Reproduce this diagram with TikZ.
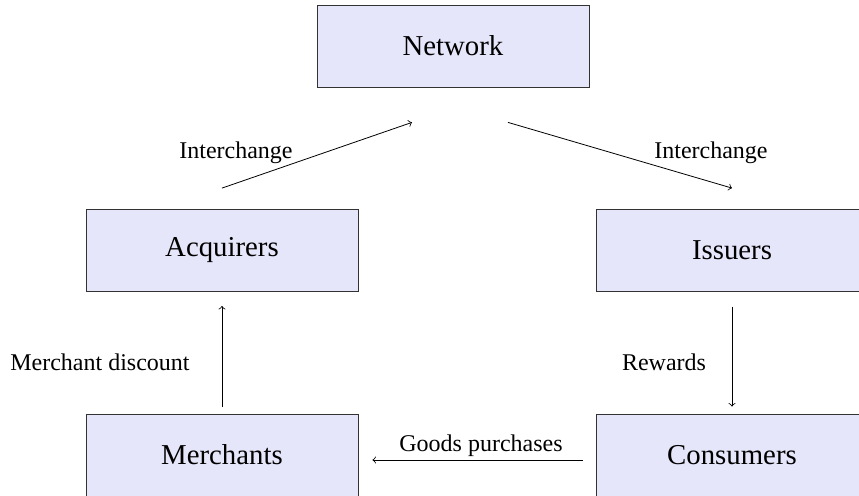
\documentclass[tikz,border=0pt]{standalone}
\usepackage{fontspec}
\setmainfont{Liberation Serif}
\usetikzlibrary{calc}
\definecolor{boxfill}{RGB}{230,230,250}
\definecolor{boxdraw}{RGB}{50,50,50}
\begin{document}
\begin{tikzpicture}[x=0.5pt,y=-0.5pt,
  box/.style={draw=boxdraw, fill=boxfill, minimum width=136pt, minimum height=41pt, inner sep=0pt, font=\fontsize{14.4}{17}\selectfont},
  lbl/.style={font=\fontsize{12}{14}\selectfont, inner sep=0pt},
  arr/.style={->, black}]
\clip (0,0) rectangle (859,496);
\node[box] (net) at (453,46) {Network};
\node[box] (acq) at (222,250.5) {Acquirers};
\node[box] (iss) at (732,250.5) {Issuers};
\node[box] (mer) at (222,455) {Merchants};
\node[box] (con) at (732,455) {Consumers};

\draw[arr] ($(acq.north)+(0,-21)$) -- ($(net.south)+(-41,35)$);
\draw[arr] ($(net.south)+(55,35)$) -- ($(iss.north)+(0,-21)$);
\draw[arr] ($(mer.north)+(0,-7)$) -- ($(acq.south)+(0,14)$);
\draw[arr] ($(iss.south)+(0,15)$) -- ($(con.north)+(0,-7)$);
\draw[arr] ($(con.west)+(-13,5)$) -- ($(mer.east)+(14,5)$);

\node[lbl] (l1) at (236,153) {Interchange};
\node[lbl] (l2) at (711,153) {Interchange};
\node[lbl] (l3) at (100,362) {Merchant discount};
\node[lbl] (l4) at (664,362) {Rewards};
\node[lbl] (l5) at (481,446) {Goods purchases};
\end{tikzpicture}
\end{document}
